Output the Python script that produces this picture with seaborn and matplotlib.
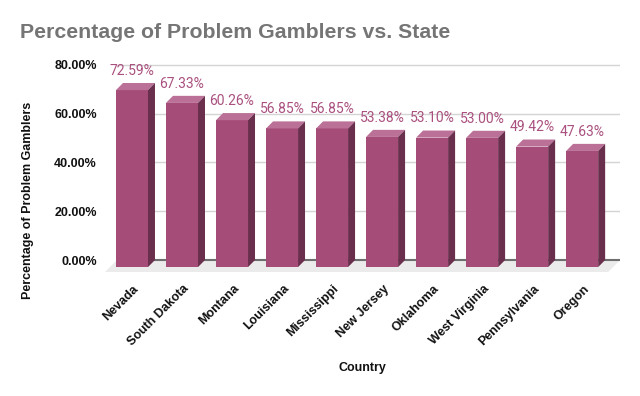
import numpy as np
import pandas as pd
import matplotlib
matplotlib.use("Agg")
import matplotlib.pyplot as plt
import matplotlib.transforms as mtransforms
from matplotlib.patches import Polygon
import seaborn as sns

# Data
states = ["Nevada", "South Dakota", "Montana", "Louisiana", "Mississippi",
          "New Jersey", "Oklahoma", "West Virginia", "Pennsylvania", "Oregon"]
pct = [72.59, 67.33, 60.26, 56.85, 56.85, 53.38, 53.10, 53.00, 49.42, 47.63]
yticks = [0, 20, 40, 60, 80]

df = pd.DataFrame({"state": states, "pct": pct})

# Colours
front = "#a54d78"
top = "#ba7097"
side = "#6b2f4e"
label_col = "#a9507e"

sns.set_theme(style="white")
plt.rcParams["font.family"] = ["Liberation Sans", "DejaVu Sans"]

fig = plt.figure(figsize=(6.4, 3.96), dpi=100)
ax = fig.add_axes([0.164, 0.3106, 0.805, 0.538])

xlim = (-0.54, 9.76)
ylim = (-5.33, 82.05)
dx, dy = 0.14, 2.9      # bar depth (data units)
fdx, fdy = 0.24, 4.9    # floor depth

# floor
ax.add_patch(Polygon([(xlim[0], -fdy), (xlim[1] - fdx, -fdy), (xlim[1], 0), (xlim[0] + fdx, 0)],
                     closed=True, facecolor="#ebebeb", edgecolor="none", zorder=0))

# back wall gridlines and baseline
ax.hlines(yticks[1:], xlim[0] + fdx, xlim[1], color="#d4d4d4", lw=1, zorder=1)
ax.hlines([0], xlim[0] + fdx, xlim[1], color="#6e6e6e", lw=1.5, zorder=1)

n_before = len(ax.patches)
sns.barplot(data=df, x="state", y="pct", color=front, saturation=1, width=0.64,
            ax=ax, zorder=3)
bars = list(ax.patches)[n_before:]

# fake 3D: shift the front face down, add top and side faces
for p, v in zip(bars, pct):
    x0, w, h = p.get_x(), p.get_width(), p.get_height()
    p.set_y(-dy)
    p.set_edgecolor("none")
    ax.add_patch(Polygon([(x0, h - dy), (x0 + w, h - dy), (x0 + w + dx, h), (x0 + dx, h)],
                         closed=True, facecolor=top, edgecolor="none", zorder=3))
    ax.add_patch(Polygon([(x0 + w, -dy), (x0 + w + dx, 0), (x0 + w + dx, h), (x0 + w, h - dy)],
                         closed=True, facecolor=side, edgecolor="none", zorder=3))
    ax.text(x0 + w / 2, v + 3.3, f"{v:.2f}%", ha="center", va="baseline",
            color=label_col, fontsize=10, family=["Roboto", "DejaVu Sans"], zorder=4)

ax.set_xlim(*xlim)
ax.set_ylim(*ylim)
ax.set_yticks(yticks)
ax.set_yticklabels([f"{t:.2f}%" for t in yticks], fontsize=9, fontweight="bold", color="#111111")
ax.tick_params(axis="y", length=0, pad=5.8)
ax.tick_params(axis="x", length=0, pad=10)
shift = mtransforms.ScaledTranslation(5 / 100, 0, fig.dpi_scale_trans)
for lab in ax.get_xticklabels():
    lab.set_rotation(45)
    lab.set_ha("right")
    lab.set_va("center")
    lab.set_rotation_mode("anchor")
    lab.set_fontsize(9)
    lab.set_fontweight("bold")
    lab.set_color("#111111")
    lab.set_transform(lab.get_transform() + shift)
for s in ax.spines.values():
    s.set_visible(False)
ax.grid(False)

ax.set_xlabel("Country", fontsize=9, fontweight="bold", color="#111111")
ax.xaxis.set_label_coords(0.5, -0.418)
ax.set_ylabel("Percentage of Problem Gamblers", fontsize=9, fontweight="bold", color="#111111")
ax.yaxis.set_label_coords(-0.138, 0.343)

fig.text(20 / 640, 0.917, "Percentage of Problem Gamblers vs. State", fontsize=15.3,
         fontweight="bold", color="#757575", ha="left", va="center")

fig.savefig("out.png", dpi=100)
